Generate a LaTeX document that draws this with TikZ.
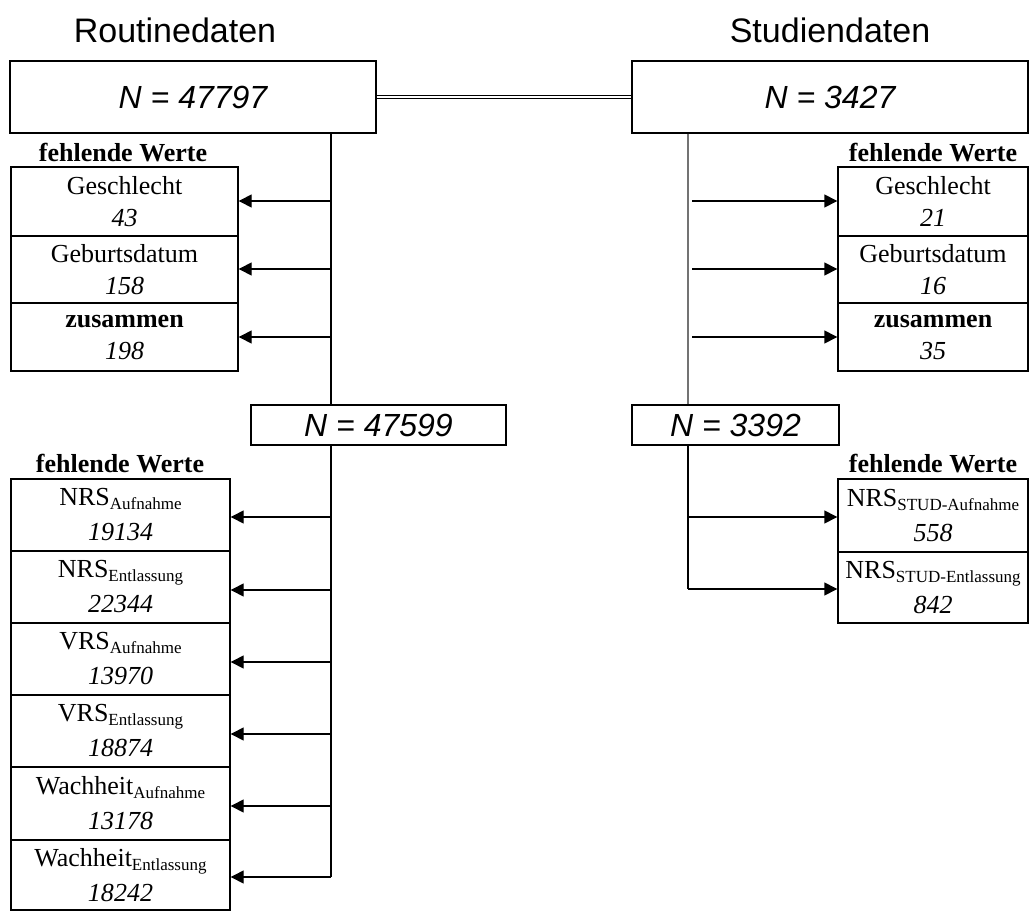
\documentclass[tikz,border=0pt]{standalone}
\usepackage{fontspec}
\setmainfont{Liberation Serif}
\newfontfamily\arialf{Liberation Sans}
\usetikzlibrary{arrows.meta}
\newcommand\subx[1]{\raisebox{-4pt}{\fontsize{17}{17}\selectfont #1}}
\begin{document}
\begin{tikzpicture}[x=1pt,y=-1pt,
 title/.style={font=\arialf\fontsize{34}{38}\selectfont, inner sep=0pt},
 nbox/.style={draw, line width=1.4pt, font=\arialf\itshape\fontsize{32}{36}\selectfont, inner sep=0pt},
 cell/.style={draw, line width=1.4pt, align=center, inner sep=0pt, font=\fontsize{26}{32}\selectfont},
 cellb/.style={cell, font=\fontsize{26}{35}\selectfont},
 hdr/.style={font=\bfseries\fontsize{26}{30}\selectfont, inner sep=0pt},
 arr/.style={line width=1.4pt, -{Triangle[length=13pt,width=13pt]}},
 ln/.style={line width=1.4pt},
]
\useasboundingbox (0,0) rectangle (1030,912);

% titles
\node[title] (tR) at (175,30) {Routinedaten};
\node[title] (tS) at (830,30) {Studiendaten};

% top N boxes
\node[nbox, minimum width=366pt, minimum height=72pt] (nR) at (193,97) {N = 47797};
\node[nbox, minimum width=396pt, minimum height=72pt] (nS) at (830,97) {N = 3427};
\draw[double, line width=1pt, double distance=2.4pt] (nR.east) -- (nS.west);

% headers
\node[hdr] (hL1) at (123,153) {fehlende Werte};
\node[hdr] (hR1) at (933,153) {fehlende Werte};
\node[hdr] (hL2) at (120,464) {fehlende Werte};
\node[hdr] (hR2) at (933,464) {fehlende Werte};

% left top cells
\node[cell, minimum width=227pt, minimum height=69pt] (lg) at (124.5,201.5) {Geschlecht\\\textit{43}};
\node[cell, minimum width=227pt, minimum height=67pt] (lb) at (124.5,269.5) {Geburtsdatum\\\textit{158}};
\node[cell, minimum width=227pt, minimum height=68pt] (lz) at (124.5,337) {\textbf{zusammen}\\\textit{198}};

% right top cells
\node[cell, minimum width=190pt, minimum height=69pt] (rg) at (933,201.5) {Geschlecht\\\textit{21}};
\node[cell, minimum width=190pt, minimum height=67pt] (rb) at (933,269.5) {Geburtsdatum\\\textit{16}};
\node[cell, minimum width=190pt, minimum height=68pt] (rz) at (933,337) {\textbf{zusammen}\\\textit{35}};

% middle N boxes
\node[nbox, minimum width=255pt, minimum height=40pt] (nR2) at (378.5,425) {N = 47599};
\node[nbox, minimum width=207pt, minimum height=40pt] (nS2) at (735.5,425) {N = 3392};

% left bottom cells
\node[cellb, minimum width=219pt, minimum height=72pt] (l1) at (120.5,515) {NRS\subx{Aufnahme}\\\textit{19134}};
\node[cellb, minimum width=219pt, minimum height=72pt] (l2) at (120.5,587) {NRS\subx{Entlassung}\\\textit{22344}};
\node[cellb, minimum width=219pt, minimum height=72pt] (l3) at (120.5,659) {VRS\subx{Aufnahme}\\\textit{13970}};
\node[cellb, minimum width=219pt, minimum height=72pt] (l4) at (120.5,731) {VRS\subx{Entlassung}\\\textit{18874}};
\node[cellb, minimum width=219pt, minimum height=73pt] (l5) at (120.5,803.5) {Wachheit\subx{Aufnahme}\\\textit{13178}};
\node[cellb, minimum width=219pt, minimum height=70pt] (l6) at (120.5,875) {Wachheit\subx{Entlassung}\\\textit{18242}};

% right bottom cells
\node[cellb, minimum width=190pt, minimum height=73pt] (r1) at (933,515.5) {NRS\subx{STUD-Aufnahme}\\\textit{558}};
\node[cellb, minimum width=190pt, minimum height=71pt] (r2) at (933,587.5) {NRS\subx{STUD-Entlassung}\\\textit{842}};

% left spine
\draw[ln] (nR.south -| 331,0) -- (nR2.north -| 331,0);
\coordinate (lend) at (331,877);
\draw[ln] (nR2.south -| 331,0) -- (lend);

% right spine
\draw[line width=2pt, black!55] (nS.south -| 688,0) -- (nS2.north -| 688,0);
\coordinate (rend) at (688,589);
\draw[ln] (nS2.south -| 688,0) -- (rend);

% left top arrows
\foreach \c/\yy in {lg/201, lb/269, lz/337}{
  \coordinate (j\c) at (331,\yy);
  \draw[arr] (j\c) -- (j\c -| \c.east);
}
% right top arrows
\foreach \c/\yy in {rg/201, rb/269, rz/337}{
  \coordinate (j\c) at (692,\yy);
  \draw[arr] (j\c) -- (j\c -| \c.west);
}
% left bottom arrows
\foreach \c/\yy in {l1/517, l2/590, l3/662, l4/734, l5/806, l6/877}{
  \coordinate (j\c) at (331,\yy);
  \draw[arr] (j\c) -- (j\c -| \c.east);
}
% right bottom arrows
\coordinate (jr1) at (688,517);
\draw[arr] (jr1) -- (jr1 -| r1.west);
\draw[arr] (rend) -- (rend -| r2.west);

\end{tikzpicture}
\end{document}
